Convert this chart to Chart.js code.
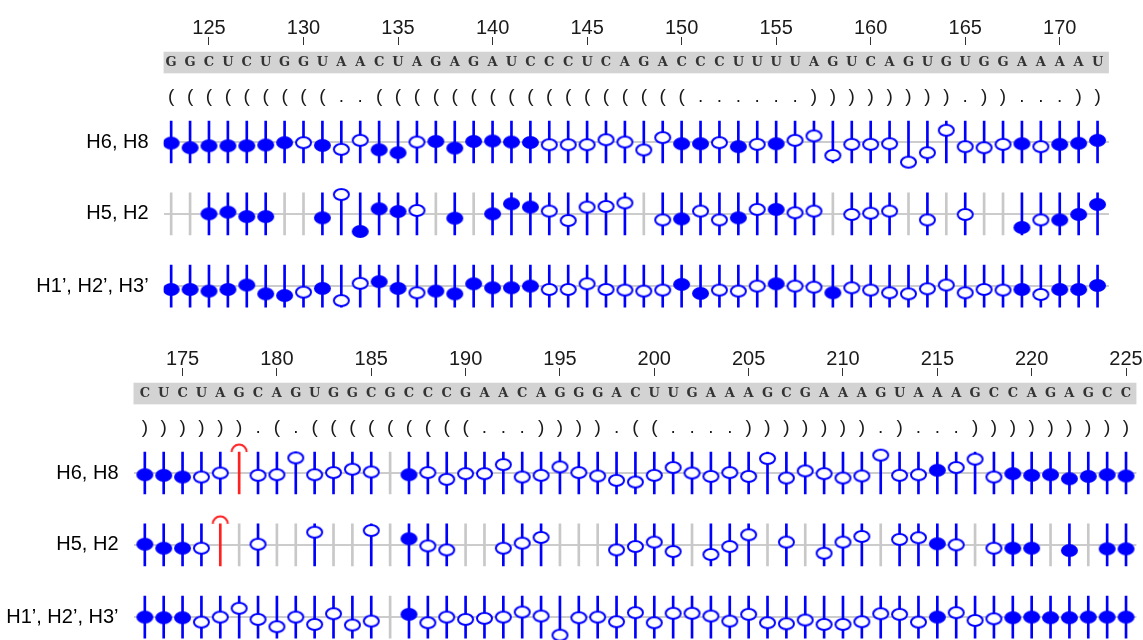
<!DOCTYPE html>
<html>
<head>
<meta charset="utf-8">
<script src="https://cdn.jsdelivr.net/npm/chart.js@4.4.1/dist/chart.umd.min.js"></script>
<style>
  body { margin: 0; background: #fff; }
  canvas { position: absolute; left: 0; }
</style>
</head>
<body>
<canvas id="top" width="1143" height="320" style="top:0"></canvas>
<canvas id="bottom" width="1143" height="309" style="top:331px"></canvas>
<script>
// ---- data ----
const ROW_LABELS = ['H6, H8', 'H5, H2', 'H1\u2019, H2\u2019, H3\u2019'];

// upper panel, residues 123-172
const START_TOP = 123;
const SEQ_TOP = 'GGCUCUGGUAACUAGAGAUCCCUCAG' + 'ACCCUUUUAGUCAGUGUGGAAAAU';
const DB_TOP = '(((((((((' + '..' + '(((((((((((((((((' + '......' + '))))))))' + '.' + '))' + '...' + '))';
const TICKS_TOP = [125, 130, 135, 140, 145, 150, 155, 160, 165, 170];

// F = filled, O = open, - = no data
const H68_TOP_KIND = 'FFFFFFFOFO' + 'OFFOFFFFFF' + 'OOOOOOOFFO' + 'FOFOOOOOOO' + 'OOOOOFOFFF';
const H68_TOP = [
  -0.05, -0.27, -0.18, -0.18, -0.18, -0.14, -0.03, -0.03, -0.16, -0.35,
  0.08, -0.37, -0.51, 0, 0.03, -0.29, 0.03, 0.05, 0, -0.02,
  -0.13, -0.13, -0.13, 0.11, 0, -0.38, 0.21, -0.08, -0.08, -0.03,
  -0.22, -0.11, -0.08, 0.08, 0.29, -0.64, -0.11, -0.11, -0.08, -0.96,
  -0.51, 0.56, -0.22, -0.27, -0.11, -0.08, -0.22, -0.11, -0.06, 0.08
];
const H52_TOP_KIND = '--FFFF--FO' + 'FFFO-F-FFF' + 'OOOOO-OFOO' + 'FOFOO-OOO-' + 'O-O--FOFFF';
const H52_TOP = [
  null, null, 0, 0.08, -0.13, -0.13, null, null, -0.19, 0.92,
  -0.84, 0.24, 0.11, 0.16, null, -0.21, null, 0, 0.48, 0.32,
  0.13, -0.32, 0.32, 0.35, 0.52, null, -0.29, -0.24, 0.13, -0.29,
  -0.19, 0.21, 0.21, 0.05, 0.13, null, -0.03, 0.03, 0.13, null,
  -0.29, null, -0.03, null, null, -0.65, -0.29, -0.29, -0.03, 0.45
];
const H123_TOP_KIND = 'FFFFFFFOFO' + 'OFFOFFFFFF' + 'OOOOOOOFFO' + 'OOFOOFOOOO' + 'OOOOOFOFFF';
const H123_TOP = [
  -0.16, -0.16, -0.24, -0.16, 0.05, -0.37, -0.45, -0.29, -0.11, -0.69,
  0.13, 0.21, -0.11, -0.32, -0.24, -0.37, 0.11, -0.08, -0.08, 0,
  -0.16, -0.16, 0.11, -0.16, -0.19, -0.24, -0.19, 0.08, -0.35, -0.19,
  -0.24, 0, 0.11, 0, -0.05, -0.32, -0.08, -0.19, -0.32, -0.37,
  -0.13, 0.05, -0.32, -0.16, -0.19, -0.16, -0.40, -0.16, -0.16, 0.03
];

// lower panel, residues 173-225 (R = red, no assignment)
const START_BOTTOM = 173;
const SEQ_BOTTOM = 'CUCUAGCAGUGGCGCCCGAACAGGGA' + 'CUUGAAAGCGAAAGUAAAGCCAGAGCC';
const DB_BOTTOM = '))))))' + '.' + '(' + '.' + '(((((((((' + '...' + '))))' + '.' + '((' + '....' +
  ')))))))' + '.' + ')' + '...' + ')))))))))';
const TICKS_BOTTOM = [175, 180, 185, 190, 195, 200, 205, 210, 215, 220, 225];

const H68_BOTTOM_KIND = 'FFFOOROOOO' + 'OOO-FOOOOO' + 'OOOOOOOOOO' + 'OOOOOOOOOO' + 'OOFOOOFFFF' + 'FFF';
const H68_BOTTOM = [
  -0.08, -0.11, -0.19, -0.19, 0, null, -0.11, -0.08, 0.72, -0.08,
  0.02, 0.18, 0.05, null, -0.08, 0.02, -0.30, -0.03, -0.03, 0.40,
  -0.19, -0.11, 0.29, 0.02, -0.14, -0.35, -0.43, -0.11, 0.26, 0,
  -0.16, 0.02, -0.16, 0.69, -0.24, 0.10, -0.03, -0.24, -0.14, 0.85,
  -0.11, -0.08, 0.13, 0.26, 0.66, -0.19, -0.03, -0.11, -0.08, -0.27,
  -0.16, -0.08, -0.14
];
const H52_BOTTOM_KIND = 'FFFOR-O--O' + '--O-FOO--O' + 'OO---OOOO-' + 'OOO-O-OOO-' + 'OOFO-OFF-F' + '-FF';
const H52_BOTTOM = [
  0.03, -0.16, -0.16, -0.16, null, null, 0.03, null, null, 0.60,
  null, null, 0.68, null, 0.29, -0.05, -0.24, null, null, -0.16,
  0.08, 0.35, null, null, null, -0.24, -0.08, 0.13, -0.32, null,
  -0.46, -0.08, 0.48, null, 0.13, null, -0.40, 0.13, 0.40, null,
  0.26, 0.34, 0.05, 0, null, -0.16, -0.16, -0.16, null, -0.27,
  null, -0.19, -0.19
];
const H123_BOTTOM_KIND = 'FFFOOOOOOO' + 'OOO-FOOOOO' + 'OOOOOOOOOO' + 'OOOOOOOOOO' + 'OOFOOOFFFF' + 'FFF';
const H123_BOTTOM = [
  0, -0.03, -0.03, -0.24, 0, 0.42, -0.11, -0.46, 0, -0.35,
  0.16, -0.38, -0.19, null, 0.13, -0.27, 0, -0.11, -0.06, 0,
  0.24, 0.05, -0.86, -0.03, 0, -0.22, 0.21, -0.27, 0.18, 0.18,
  0.05, -0.19, 0.13, -0.27, -0.32, -0.14, -0.35, -0.35, -0.22, 0.16,
  0.13, -0.24, 0, 0.21, -0.16, -0.08, -0.03, 0, -0.03, -0.03,
  0, 0, 0
];

// ---- layout (y in stem half-lengths) ----
const ROW_Y = [0, -3.42, -6.86];
const Y_MAX = 4.62;
const BAND = [3.27, 4.30];
const SEQ_Y = 3.78;
const DB_Y = 2.16;
const BLUE = '#0000ff';
const RED = '#ff2020';

Chart.defaults.font.family = '"Liberation Sans", Arial, sans-serif';

function ellipseMarker(filled) {
  const c = document.createElement('canvas');
  c.width = 19; c.height = 15;
  const g = c.getContext('2d');
  g.beginPath();
  if (filled) {
    g.ellipse(9.5, 7.5, 8.5, 6.5, 0, 0, Math.PI * 2);
    g.fillStyle = BLUE;
    g.fill();
  } else {
    g.ellipse(9.5, 7.5, 7.5, 5.5, 0, 0, Math.PI * 2);
    g.fillStyle = '#fff';
    g.fill();
    g.lineWidth = 2;
    g.strokeStyle = BLUE;
    g.stroke();
  }
  return c;
}

function arcMarker() {
  const c = document.createElement('canvas');
  c.width = 22; c.height = 22;
  const g = c.getContext('2d');
  g.beginPath();
  g.arc(11, 11, 7.5, Math.PI, Math.PI * 2);
  g.lineWidth = 2;
  g.strokeStyle = RED;
  g.stroke();
  return c;
}

const FILLED_IMG = ellipseMarker(true);
const OPEN_IMG = ellipseMarker(false);
const ARC_IMG = arcMarker();

const sequencePlugin = {
  id: 'sequenceText',
  beforeDatasetsDraw(chart, args, opts) {
    const {ctx, chartArea, scales: {y}} = chart;
    const top = y.getPixelForValue(BAND[1]);
    const bottom = y.getPixelForValue(BAND[0]);
    ctx.save();
    ctx.fillStyle = '#d3d3d3';
    ctx.fillRect(chartArea.left, top, chartArea.right - chartArea.left, bottom - top);
    ctx.restore();
  },
  afterDatasetsDraw(chart, args, opts) {
    const {ctx, scales: {x, y}} = chart;
    ctx.save();
    ctx.textAlign = 'center';
    ctx.textBaseline = 'middle';
    ctx.fillStyle = '#333';
    ctx.font = 'bold 13px "DejaVu Serif", serif';
    for (let i = 0; i < opts.seq.length; i++) {
      ctx.fillText(opts.seq[i], x.getPixelForValue(opts.start + i), y.getPixelForValue(SEQ_Y));
    }
    ctx.fillStyle = '#1a1a1a';
    ctx.font = '19px "Liberation Sans", Arial, sans-serif';
    for (let i = 0; i < opts.db.length; i++) {
      ctx.fillText(opts.db[i], x.getPixelForValue(opts.start + i), y.getPixelForValue(DB_Y));
    }
    ctx.restore();
  }
};

function drawPanel(id, start, seq, db, rows, kinds, ticks, xMin, xMax, yMin, axisWidth, padRight) {
  const filled = [], open = [], arcs = [], stems = [], gray = [], red = [];
  rows.forEach((vals, r) => {
    vals.forEach((v, i) => {
      const x = start + i;
      const k = kinds[r][i];
      const stem = {x: x, y: [ROW_Y[r] - 1, ROW_Y[r] + 1]};
      if (k === 'F') { filled.push({x: x, y: ROW_Y[r] + v}); stems.push(stem); }
      else if (k === 'O') { open.push({x: x, y: ROW_Y[r] + v}); stems.push(stem); }
      else if (k === 'R') { arcs.push({x: x, y: ROW_Y[r] + 1}); red.push(stem); }
      else { gray.push(stem); }
    });
  });

  const barOpts = {type: 'bar', grouped: false, barThickness: 2, maxBarThickness: 2, borderWidth: 0};

  new Chart(document.getElementById(id), {
    type: 'scatter',
    data: {
      datasets: [
        {data: filled, pointStyle: FILLED_IMG, pointRadius: 8},
        {data: open, pointStyle: OPEN_IMG, pointRadius: 8},
        {data: arcs, pointStyle: ARC_IMG, pointRadius: 8},
        Object.assign({data: stems, backgroundColor: BLUE}, barOpts),
        Object.assign({data: gray, backgroundColor: '#c8c8c8'}, barOpts),
        Object.assign({data: red, backgroundColor: RED}, barOpts)
      ]
    },
    options: {
      responsive: false,
      animation: false,
      events: [],
      layout: {autoPadding: false, padding: {left: 0, right: padRight, top: 0, bottom: 0}},
      plugins: {
        legend: {display: false},
        tooltip: {enabled: false},
        sequenceText: {start: start, seq: seq, db: db}
      },
      scales: {
        x: {
          type: 'linear',
          position: 'top',
          min: xMin,
          max: xMax,
          offset: false,
          afterBuildTicks: s => { s.ticks = ticks.map(v => ({value: v})); },
          afterFit: s => { s.height = 45; s.paddingLeft = 0; s.paddingRight = 0; },
          ticks: {autoSkip: false, maxRotation: 0, padding: -3, color: '#1a1a1a', font: {size: 20}},
          grid: {drawOnChartArea: false, drawTicks: true, tickLength: 8, color: '#333', offset: false},
          border: {display: false}
        },
        y: {
          type: 'linear',
          min: yMin,
          max: Y_MAX,
          afterBuildTicks: s => { s.ticks = ROW_Y.map(v => ({value: v})); },
          afterFit: s => { s.width = axisWidth; s.paddingTop = 0; s.paddingBottom = 0; },
          ticks: {autoSkip: false, padding: 15, color: '#000', font: {size: 20},
                  callback: (v, i) => ROW_LABELS[i]},
          grid: {color: '#cccccc', lineWidth: 2, drawTicks: false},
          border: {display: false}
        }
      }
    },
    plugins: [sequencePlugin]
  });
}

drawPanel('top', START_TOP, SEQ_TOP, DB_TOP,
  [H68_TOP, H52_TOP, H123_TOP], [H68_TOP_KIND, H52_TOP_KIND, H123_TOP_KIND],
  TICKS_TOP, 122.6, 172.6, Y_MAX - 275 / 21, 163.6, 34.1);

drawPanel('bottom', START_BOTTOM, SEQ_BOTTOM, DB_BOTTOM,
  [H68_BOTTOM, H52_BOTTOM, H123_BOTTOM], [H68_BOTTOM_KIND, H52_BOTTOM_KIND, H123_BOTTOM_KIND],
  TICKS_BOTTOM, 172.4, 225.55, Y_MAX - 264 / 21, 133.5, 6.6);
</script>
</body>
</html>
